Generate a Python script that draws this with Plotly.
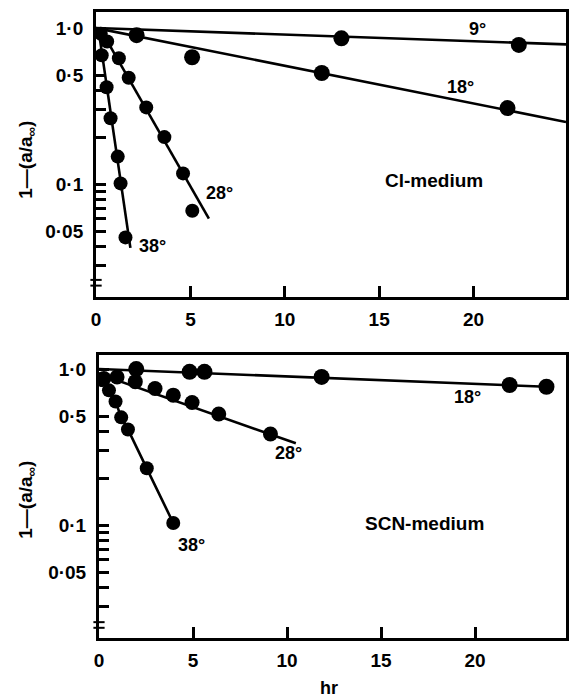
import math
import plotly.graph_objects as go

# ---------------- data ----------------
x_ticks = [0, 5, 10, 15, 20]
x_tick_text = ["0", "5", "10", "15", "20"]
y_major_vals = [1.0, 0.5, 0.1, 0.05]
y_major_text = ["1·0", "0·5", "0·1", "0·05"]
y_minor_vals = [0.4, 0.3, 0.2, 0.09, 0.08, 0.07, 0.06, 0.04, 0.03]

# Cl-medium
cl9_t = [13.0, 22.4]
cl9_y = [0.86, 0.78]
cl9_fit_t = [0, 24.9]
cl9_fit_y = [1.0, 0.786]

cl18_t = [2.15, 5.09, 11.96, 21.8]
cl18_y = [0.90, 0.65, 0.515, 0.307]
cl18_fit_t = [0, 24.9]
cl18_fit_y = [1.0, 0.25]

cl28_t = [0.25, 0.59, 1.21, 1.73, 2.66, 3.62, 4.61, 5.1]
cl28_y = [0.92, 0.82, 0.64, 0.48, 0.31, 0.20, 0.117, 0.0675]
cl28_fit_t = [0.2, 5.98]
cl28_fit_y = [1.0, 0.06]

cl38_t = [0.3, 0.56, 0.77, 1.15, 1.3, 1.56]
cl38_y = [0.67, 0.417, 0.264, 0.150, 0.101, 0.0455]
cl38_fit_t = [0.12, 1.82]
cl38_fit_y = [1.0, 0.039]

# SCN-medium
scn18_t = [1.98, 4.82, 5.61, 11.84, 21.84, 23.8]
scn18_y = [1.0, 0.96, 0.96, 0.89, 0.79, 0.77]
scn18_fit_t = [0, 23.8]
scn18_fit_y = [1.0, 0.77]

scn28_t = [0.26, 0.96, 1.93, 2.98, 3.95, 4.95, 6.37, 9.12]
scn28_y = [0.87, 0.89, 0.83, 0.75, 0.68, 0.61, 0.515, 0.383]
scn28_fit_t = [0, 10.47]
scn28_fit_y = [0.93, 0.334]

scn38_t = [0.0, 0.18, 0.53, 0.88, 1.18, 1.54, 2.54, 3.95]
scn38_y = [0.95, 0.85, 0.73, 0.62, 0.49, 0.41, 0.231, 0.103]

# ---------------- figure ----------------
W, H = 569, 697
FONT = "Liberation Sans"
fig = go.Figure()

def pts(t, y, xa, ya, size=16):
    fig.add_trace(go.Scatter(x=t, y=y, mode="markers", xaxis=xa, yaxis=ya,
                             marker=dict(color="black", size=size), showlegend=False))

def fit(t, y, xa, ya):
    fig.add_trace(go.Scatter(x=t, y=y, mode="lines", xaxis=xa, yaxis=ya,
                             line=dict(color="black", width=2.6), showlegend=False))

# top
fit(cl9_fit_t, cl9_fit_y, "x", "y"); pts(cl9_t, cl9_y, "x", "y")
fit(cl18_fit_t, cl18_fit_y, "x", "y"); pts(cl18_t, cl18_y, "x", "y")
fit(cl28_fit_t, cl28_fit_y, "x", "y"); pts(cl28_t, cl28_y, "x", "y", 14)
fit(cl38_fit_t, cl38_fit_y, "x", "y"); pts(cl38_t, cl38_y, "x", "y", 14)
# bottom
fit(scn18_fit_t, scn18_fit_y, "x2", "y2"); pts(scn18_t, scn18_y, "x2", "y2")
fit(scn28_fit_t, scn28_fit_y, "x2", "y2"); pts(scn28_t, scn28_y, "x2", "y2", 15)
fig.add_trace(go.Scatter(x=scn38_t, y=scn38_y, mode="lines", xaxis="x2", yaxis="y2",
                         line=dict(color="black", width=2.6), showlegend=False))
pts(scn38_t[1:], scn38_y[1:], "x2", "y2", 14)

bold = lambda s: "<b>%s</b>" % s
tickfont = dict(family=FONT, size=19, color="black")
xcommon = dict(showline=True, linewidth=3, linecolor="black", mirror=True,
               ticks="inside", ticklen=11, tickwidth=2.5, tickcolor="black",
               tickmode="array", tickvals=x_ticks, ticktext=[bold(s) for s in x_tick_text],
               tickfont=tickfont, showgrid=False, zeroline=False, ticklabelstandoff=3)
ycommon = dict(type="log", showline=True, linewidth=3, linecolor="black", mirror=True,
               ticks="inside", ticklen=10, tickwidth=2.5, tickcolor="black",
               tickmode="array", tickvals=y_major_vals, ticktext=[bold(s) for s in y_major_text],
               tickfont=tickfont,
               minor=dict(tickmode="array", tickvals=y_minor_vals, ticks="inside",
                          ticklen=10, tickwidth=2.5, tickcolor="black", showgrid=False),
               showgrid=False, zeroline=False, ticklabelstandoff=6)

fig.update_layout(
    width=W, height=H, margin=dict(l=0, r=0, t=0, b=0),
    paper_bgcolor="white", plot_bgcolor="white",
    font=dict(family=FONT, color="black"),
    xaxis=dict(domain=[92 / W, 567 / W], range=[0, 24.9], anchor="y", **xcommon),
    yaxis=dict(domain=[1 - 297 / H, 1 - 12 / H], range=[-1.724, 0.103], anchor="x", **ycommon),
    xaxis2=dict(domain=[95 / W, 567 / W], range=[0, 24.84], anchor="y2", **xcommon),
    yaxis2=dict(domain=[1 - 638 / H, 1 - 355 / H], range=[-1.724, 0.090], anchor="x2", **ycommon),
)

def lab(text, x, y, xr, yr, size=18):
    fig.add_annotation(text=bold(text), x=x, y=y, xref=xr, yref=yr,
                       showarrow=False, font=dict(family=FONT, size=size, color="black"))

lg = math.log10
# top panel labels
lab("9°", 20.2, lg(0.99), "x", "y")
lab("18°", 19.3, lg(0.42), "x", "y")
lab("28°", 6.55, lg(0.0875), "x", "y")
lab("38°", 3.0, lg(0.040), "x", "y")
lab("Cl-medium", 17.9, lg(0.105), "x", "y", 19)
# bottom panel labels
lab("18°", 19.6, lg(0.66), "x2", "y2")
lab("28°", 10.1, lg(0.29), "x2", "y2")
lab("38°", 4.9, lg(0.075), "x2", "y2")
lab("SCN-medium", 17.3, lg(0.103), "x2", "y2", 19)

# axis titles
for yc in [1 - 160 / H, 1 - 500 / H]:
    fig.add_annotation(text="<b>1—(a/a<sub>∞</sub>)</b>",
                       x=22 / W, y=yc, xref="paper", yref="paper", xanchor="center", yanchor="middle",
                       showarrow=False, textangle=-90, font=dict(family=FONT, size=19, color="black"))
fig.add_annotation(text="<b>hr</b>", x=327 / W, y=1 - 688 / H, xref="paper", yref="paper",
                   xanchor="center", yanchor="middle",
                   showarrow=False, font=dict(family=FONT, size=18, color="black"))

# axis break marks
for xr, yr, yy in [("x domain", "y domain", 0.05), ("x2 domain", "y2 domain", 0.046)]:
    for dy in (-0.01, 0.01):
        fig.add_shape(type="line", xref=xr, yref=yr, x0=-0.012, x1=0.012,
                      y0=yy + dy, y1=yy + dy, line=dict(color="black", width=2))

fig.write_html("out.html")
